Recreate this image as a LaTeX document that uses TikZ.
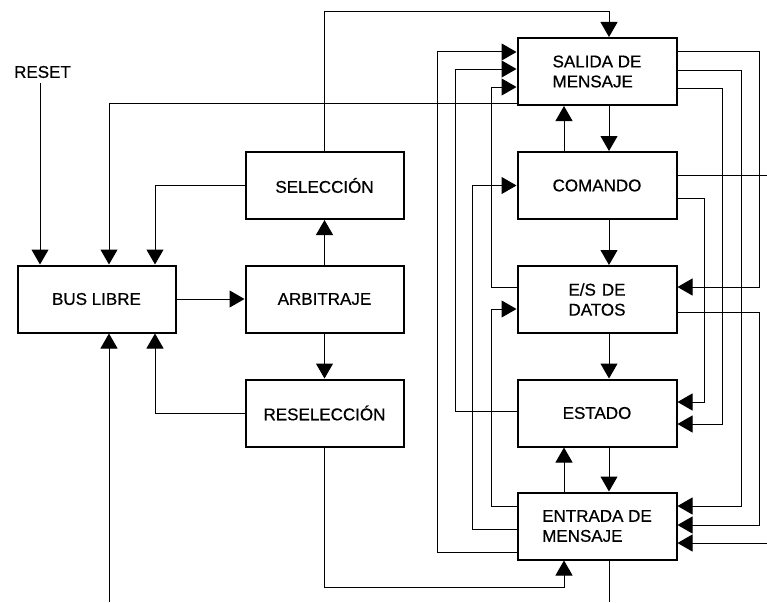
\documentclass[tikz,border=0pt]{standalone}
\usepackage{fontspec}
\setmainfont{Liberation Sans}
\newfontface\heavyface{Liberation Sans}[FakeBold=0.6]
\usetikzlibrary{arrows.meta}
\begin{document}
\begin{tikzpicture}[x=1pt,y=-1pt,
  box/.style={draw, line width=2pt, minimum width=158pt, minimum height=67pt, inner sep=0pt, align=left,
    font=\heavyface\fontsize{17}{20}\selectfont},
  lbl/.style={inner sep=0pt, font=\heavyface\fontsize{17}{20}\selectfont},
  conn/.style={line width=1pt},
  arr/.style={conn, -{Triangle[length=15pt,width=17pt]}}]
\fill[white] (0,0) rectangle (767,602);
\useasboundingbox (0,0) rectangle (767,602);
% nodes
\node[box] (bus)   at (96.5,299)  {BUS LIBRE};
\node[box] (sel)   at (324.5,185.5) {SELECCIÓN};
\node[box] (arb)   at (324.5,299) {ARBITRAJE};
\node[box] (resel) at (324.5,413) {RESELECCIÓN};
\node[box, minimum width=159pt] (sal) at (597,71.5)  {SALIDA DE\\MENSAJE};
\node[box, minimum width=159pt] (com) at (597,185.5) {COMANDO};
\node[box, minimum width=159pt] (es)  at (597,299.5) {E/S\hspace{6pt}DE\\DATOS};
\node[box, minimum width=159pt] (est) at (597,413)   {ESTADO};
\node[box, minimum width=159pt] (ent) at (597,526)   {ENTRADA DE\\MENSAJE};
\node[lbl] (reset) at (42.5,72) {RESET};
\coordinate (bin) at (109,602);
\coordinate (eout) at (609,602);
\coordinate (cout) at (767,175);
\coordinate (ein) at (767,543);
% left part
\draw[arr] (reset.south -| 40,0) ++(0,5) -- (bus.north -| 40,0);
\draw[arr] (sal.west |- 0,103) -| (bus.north -| 109,0);
\draw[arr] (sel.west) -| (bus.north -| 155,0);
\draw[arr] (bus.east) -- (arb.west);
\draw[arr] (arb.north) -- (sel.south);
\draw[arr] (arb.south) -- (resel.north);
\draw[arr] (resel.west) -| (bus.south -| 155,0);
\draw[arr] (bin) -- (bus.south -| bin);
\draw[arr] (sel.north) -- (sel.north |- 0,12) -| ([xshift=12pt]sal.north);
\draw[arr] (resel.south) -- (resel.south |- 0,587) -| ([xshift=-33pt]ent.south);
% right column, centre
\draw[arr] ([xshift=12pt]sal.south) -- ([xshift=12pt]com.north);
\draw[arr] ([xshift=-33pt]com.north) -- ([xshift=-33pt]sal.south);
\draw[arr] ([xshift=12pt]com.south) -- ([xshift=12pt]es.north);
\draw[arr] ([xshift=12pt]es.south) -- ([xshift=12pt]est.north);
\draw[arr] ([xshift=12pt]est.south) -- ([xshift=12pt]ent.north);
\draw[arr] ([xshift=-33pt]ent.north) -- ([xshift=-33pt]est.south);
\draw[conn] ([xshift=12pt]ent.south) -- (eout);
% right column, left loops
\draw[arr] (ent.west |- 0,552) -| (437,52) -- (sal.west |- 0,52);
\draw[arr] (est.west |- 0,411) -| (455,69) -- (sal.west |- 0,69);
\draw[arr] (ent.west |- 0,529) -| (472,185.5) -- (com.west);
\draw[arr] (es.west |- 0,287) -| (491,87) -- (sal.west |- 0,87);
\draw[arr] (ent.west |- 0,506) -| (491,309) -- (es.west |- 0,309);
% right column, right loops
\draw[arr] (sal.east |- 0,52) -| (759,287) -- (es.east |- 0,287);
\draw[arr] (sal.east |- 0,70) -| (741,506) -- (ent.east |- 0,506);
\draw[arr] (sal.east |- 0,88) -| (722,424) -- (est.east |- 0,424);
\draw[arr] (com.east |- 0,198) -| (704,402) -- (est.east |- 0,402);
\draw[conn] (com.east |- cout) -- (cout);
\draw[arr] (es.east |- 0,312) -| (759,525) -- (ent.east |- 0,525);
\draw[arr] (ein) -- (ent.east |- ein);
\end{tikzpicture}
\end{document}
